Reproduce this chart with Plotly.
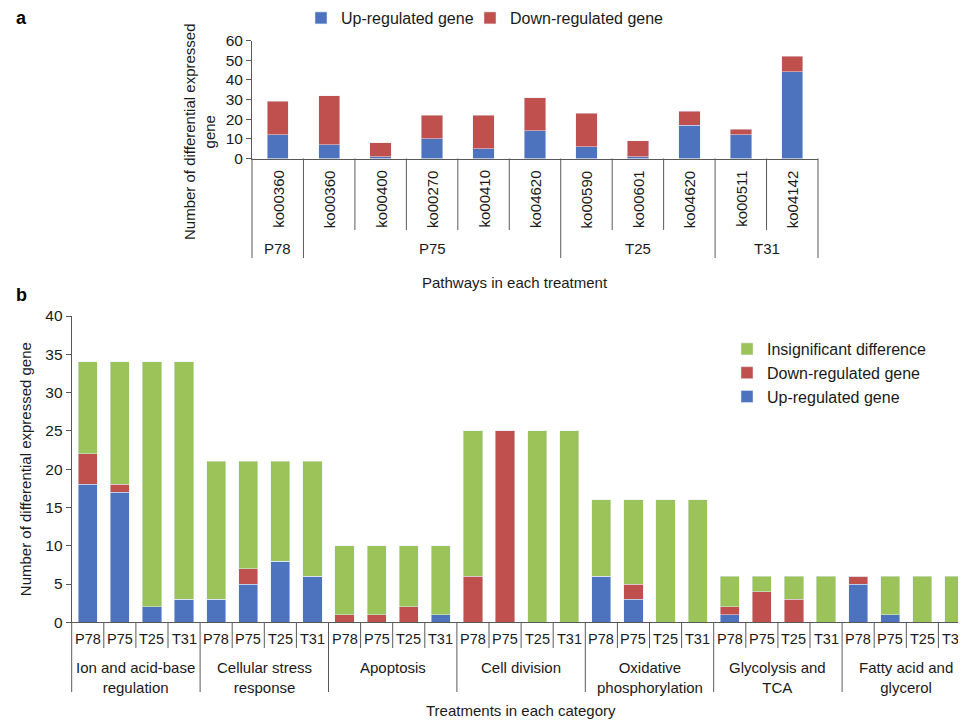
import plotly.graph_objects as go

# ---------------- Panel a data ----------------
a_treatments = ["P78", "P75", "P75", "P75", "P75", "P75", "T25", "T25", "T25", "T31", "T31"]
a_pathways = ["ko00360", "ko00360", "ko00400", "ko00270", "ko00410", "ko04620",
              "ko00590", "ko00601", "ko04620", "ko00511", "ko04142"]
a_up = [12, 7, 1, 10, 5, 14, 6, 1, 17, 12, 44]
a_down = [17, 25, 7, 12, 17, 17, 17, 8, 7, 3, 8]

# ---------------- Panel b data ----------------
b_categories = ["Ion and acid-base<br>regulation", "Cellular stress<br>response", "Apoptosis",
                "Cell division", "Oxidative<br>phosphorylation", "Glycolysis and<br>TCA",
                "Fatty acid and<br>glycerol"]
b_treatments = ["P78", "P75", "T25", "T31"]
b_up = [18, 17, 2, 3, 3, 5, 8, 6, 0, 0, 0, 1, 0, 0, 0, 0, 6, 3, 0, 0, 1, 0, 0, 0, 5, 1, 0, 0]
b_down = [4, 1, 0, 0, 0, 2, 0, 0, 1, 1, 2, 0, 6, 25, 0, 0, 0, 2, 0, 0, 1, 4, 3, 0, 1, 0, 0, 0]
b_insig = [12, 16, 32, 31, 18, 14, 13, 15, 9, 9, 8, 9, 19, 0, 25, 25, 10, 11, 16, 16, 4, 2, 3, 6, 0, 5, 6, 6]

BLUE = "#4E73BE"
RED = "#C0504D"
GREEN = "#9BC35A"
AX = "#595959"
TXT = "#1a1a1a"
FONT = "Liberation Sans, Arial, sans-serif"

OFF = 8  # page offset of the figure inside the browser window
W, H = 966, 721

def px(v):  # window pixel from left -> paper x
    return (v - OFF) / W

def py(v):  # window pixel from top -> paper y
    return 1 - (v - OFF) / H

fig = go.Figure()

xa = list(range(len(a_pathways)))
fig.add_trace(go.Bar(x=xa, y=a_up, name="Up-regulated gene", marker_color=BLUE,
                     width=0.415, xaxis="x", yaxis="y", legend="legend"))
fig.add_trace(go.Bar(x=xa, y=a_down, name="Down-regulated gene", marker_color=RED,
                     width=0.415, xaxis="x", yaxis="y", legend="legend3"))

nb = len(b_categories) * len(b_treatments)
xb = list(range(nb))
fig.add_trace(go.Bar(x=xb, y=b_up, name="Up-regulated gene", marker_color=BLUE,
                     width=0.6, xaxis="x2", yaxis="y2", legend="legend2",
                     legendgroup="up", legendrank=3))
fig.add_trace(go.Bar(x=xb, y=b_down, name="Down-regulated gene", marker_color=RED,
                     width=0.6, xaxis="x2", yaxis="y2", legend="legend2",
                     legendgroup="down", legendrank=2))
fig.add_trace(go.Bar(x=xb, y=b_insig, name="Insignificant difference", marker_color=GREEN,
                     width=0.6, xaxis="x2", yaxis="y2", legend="legend2",
                     legendgroup="insig", legendrank=1))

annotations = []
shapes = []

def ann(**kw):
    base = dict(showarrow=False, xanchor="center", yanchor="middle",
                font=dict(size=15, color=TXT))
    base.update(kw)
    annotations.append(base)

# panel a category labels
for i, p in enumerate(a_pathways):
    ann(x=i, xref="x", y=py(199), yref="paper", text=p, textangle=-90)
groups_a = []
for i, t in enumerate(a_treatments):
    if groups_a and groups_a[-1][0] == t:
        groups_a[-1][2] = i
    else:
        groups_a.append([t, i, i])
for t, s, e in groups_a:
    ann(x=(s + e) / 2, xref="x", y=py(248), yref="paper", text=t)
group_starts_a = {s for _, s, _ in groups_a}
for i in range(1, len(a_pathways)):
    y1 = 258 if i in group_starts_a else 230
    shapes.append(dict(type="line", xref="x", yref="paper", x0=i - 0.5, x1=i - 0.5,
                       y0=py(158.5), y1=py(y1), line=dict(color=AX, width=1)))
for xd in (0, 1):
    shapes.append(dict(type="line", xref="x domain", yref="paper", x0=xd, x1=xd,
                       y0=py(158.5), y1=py(258), line=dict(color=AX, width=1)))

# panel b category labels
nt = len(b_treatments)
for g, c in enumerate(b_categories):
    for j, t in enumerate(b_treatments):
        ann(x=g * nt + j, xref="x2", y=py(639), yref="paper", text=t,
            font=dict(size=14.5, color=TXT))
    ann(x=g * nt + (nt - 1) / 2, xref="x2", y=py(657), yref="paper", text=c,
        yanchor="top")
for i in range(1, nb):
    y1 = 692 if i % nt == 0 else 648
    shapes.append(dict(type="line", xref="x2", yref="paper", x0=i - 0.5, x1=i - 0.5,
                       y0=py(622.3), y1=py(y1), line=dict(color=AX, width=1)))
shapes.append(dict(type="line", xref="x2 domain", yref="paper", x0=0, x1=0,
                   y0=py(622.3), y1=py(692), line=dict(color=AX, width=1)))

# titles / panel letters
ann(x=px(21), xref="paper", y=py(18), yref="paper", text="<b>a</b>",
    font=dict(size=18, color="#000"))
ann(x=px(21), xref="paper", y=py(295), yref="paper", text="<b>b</b>",
    font=dict(size=18, color="#000"))
ann(x=px(199), xref="paper", y=py(132), yref="paper",
    text="Number of differential expressed<br>gene", textangle=-90)
ann(x=px(515), xref="paper", y=py(282), yref="paper", text="Pathways in each treatment")
ann(x=px(521), xref="paper", y=py(710), yref="paper", text="Treatments in each category")

legend_common = dict(orientation="h", xanchor="left", yanchor="top",
                     font=dict(size=16, color=TXT), itemwidth=30,
                     bgcolor="rgba(0,0,0,0)")

fig.update_layout(
    width=W, height=H, margin=dict(l=0, r=0, t=0, b=0, autoexpand=False),
    paper_bgcolor="white", plot_bgcolor="white",
    font=dict(family=FONT, color=TXT, size=15),
    barmode="stack",
    xaxis=dict(domain=[px(252), px(818)], range=[-0.5, len(a_pathways) - 0.5],
               showticklabels=False, ticks="", showline=True, linecolor=AX, linewidth=1,
               showgrid=False, zeroline=False, anchor="y", fixedrange=True),
    yaxis=dict(domain=[py(158.5), py(40.5)], range=[0, 60], dtick=10, ticks="outside",
               ticklen=5, tickcolor=AX, showline=True, linecolor=AX, linewidth=1,
               showgrid=False, zeroline=False, anchor="x", tickfont=dict(size=15.5, color=TXT),
               fixedrange=True),
    xaxis2=dict(domain=[px(71.7), px(970.5)], range=[-0.5, nb - 0.5],
                showticklabels=False, ticks="", showline=True, linecolor=AX, linewidth=1,
                showgrid=False, zeroline=False, anchor="y2", fixedrange=True),
    yaxis2=dict(domain=[py(622.3), py(316)], range=[0, 40], dtick=5, ticks="outside",
                ticklen=5, tickcolor=AX, showline=True, linecolor=AX, linewidth=1,
                showgrid=False, zeroline=False, anchor="x2", tickfont=dict(size=15.5, color=TXT),
                title=dict(text="Number of differential expressed gene", standoff=10,
                           font=dict(size=15, color=TXT)),
                fixedrange=True),
    legend=dict(x=px(301), y=py(1), **legend_common),
    legend3=dict(x=px(470), y=py(1), **legend_common),
    legend2=dict(orientation="v", x=px(727), y=py(332), xanchor="left", yanchor="top",
                 font=dict(size=16, color=TXT), itemwidth=30, traceorder="normal",
                 tracegroupgap=3.5, bgcolor="rgba(0,0,0,0)"),
    annotations=annotations,
    shapes=shapes,
    showlegend=True,
)

fig.write_html("out.html")
